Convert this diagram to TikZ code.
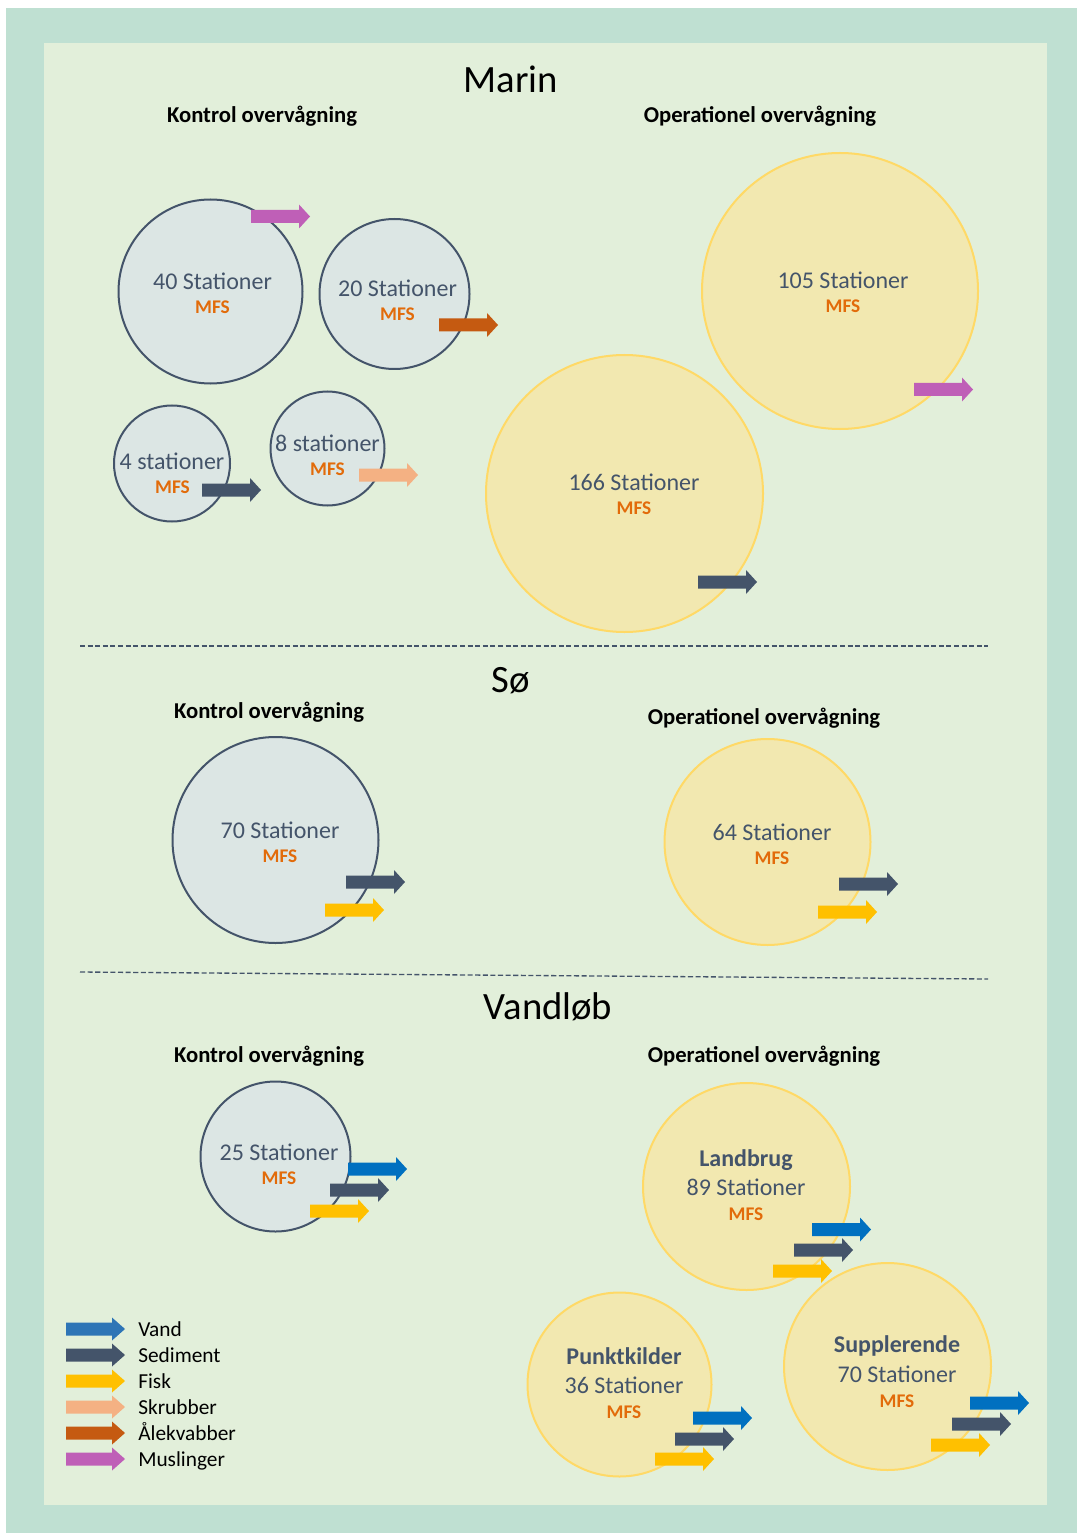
\documentclass[tikz,border=0pt]{standalone}
\usepackage{fontspec}
\setmainfont{Carlito}
\definecolor{outerbg}{HTML}{BFE0D2}
\definecolor{innerbg}{HTML}{E2EFDA}
\definecolor{greyfill}{HTML}{DCE6E4}
\definecolor{greyline}{HTML}{44546A}
\definecolor{yelfill}{HTML}{F2E8B0}
\definecolor{yelline}{HTML}{FFD966}
\definecolor{txtgrey}{HTML}{44546A}
\definecolor{mfsorange}{HTML}{E26B0A}
\definecolor{cvand}{HTML}{0070C0}
\definecolor{cvandleg}{HTML}{2E75B6}
\definecolor{csed}{HTML}{44546A}
\definecolor{cfisk}{HTML}{FFC000}
\definecolor{cskrub}{HTML}{F4B183}
\definecolor{calek}{HTML}{C55A11}
\definecolor{cmusl}{HTML}{BF5FB7}
\tikzset{
  kontrolc/.style={circle, draw=greyline, line width=1.5pt, fill=greyfill, inner sep=0pt},
  operc/.style={circle, draw=yelline, line width=1.5pt, fill=yelfill, inner sep=0pt},
  title/.style={anchor=base, font=\fontsize{29}{31}\selectfont, text=black},
  heading/.style={anchor=base, font=\bfseries\fontsize{17}{19}\selectfont, text=black},
  stat/.style={anchor=base, font=\fontsize{18}{20}\selectfont, text=txtgrey},
  bstat/.style={anchor=base, font=\bfseries\fontsize{18}{20}\selectfont, text=txtgrey},
  mfs/.style={anchor=base, font=\bfseries\fontsize{14.5}{16}\selectfont, text=mfsorange},
  legtext/.style={anchor=base west, font=\fontsize{16}{18}\selectfont, text=black, inner sep=0pt},
  sepline/.style={draw=greyline, line width=1pt, dash pattern=on 3.8pt off 1.9pt},
  flow/.pic={\fill (0,-6.5) -- (48,-6.5) -- (48,-12) -- (59,0) -- (48,12) -- (48,6.5) -- (0,6.5) -- cycle;},
  legflow/.pic={\fill (0,-6.5) -- (46,-6.5) -- (46,-11.5) -- (59,0) -- (46,11.5) -- (46,6.5) -- (0,6.5) -- cycle;}
}
\begin{document}
\begin{tikzpicture}[x=0.75pt, y=-0.75pt]
\useasboundingbox (0,0) rectangle (1077,1533);
\fill[white] (0,0) rectangle (1077,1533);
\fill[outerbg] (6,8) rectangle (1077,1533);
\fill[innerbg] (44,43) rectangle (1047,1505);

% ---------------- Marin ----------------
\node[title] (tmarin) at (511,93) {Marin};
\node[heading] (hmk) at (262,123) {Kontrol overvågning};
\node[heading] (hmo) at (760,123) {Operationel overvågning};

\node[kontrolc, minimum size=138pt] (c40) at (210.5,291.5) {};
\node[kontrolc, minimum size=112.5pt] (c20) at (394.5,294) {};
\node[kontrolc, minimum size=87pt] (c4) at (172,463.5) {};
\node[kontrolc, minimum size=85.5pt] (c8) at (327.5,448.5) {};
\node[operc, minimum size=207pt] (c105) at (840,291) {};
\node[operc, minimum size=207.75pt] (c166) at (624.5,493.5) {};

\node[stat] (t40) at (212.5,290) {40 Stationer};
\node[mfs] (m40) at (212.5,314) {MFS};
\node[stat] (t20) at (397.5,297) {20 Stationer};
\node[mfs] (m20) at (397.5,321) {MFS};
\node[stat] (t4) at (172,469) {4 stationer};
\node[mfs] (m4) at (172.5,493) {MFS};
\node[stat] (t8) at (327.5,451) {8 stationer};
\node[mfs] (m8) at (327.5,475) {MFS};
\node[stat] (t105) at (843,289) {105 Stationer};
\node[mfs] (m105) at (843,313) {MFS};
\node[stat] (t166) at (634,490) {166 Stationer};
\node[mfs] (m166) at (634,514) {MFS};

\pic[fill=cmusl] at (251,216.5) {flow};
\pic[fill=calek] at (439,325) {flow};
\pic[fill=csed] at (202,490) {flow};
\pic[fill=cskrub] at (359,475) {flow};
\pic[fill=cmusl] at (914,389.5) {flow};
\pic[fill=csed] at (698,582) {flow};

\coordinate (d1a) at (80,646);
\coordinate (d1b) at (988,646);
\draw[sepline] (d1a) -- (d1b);

% ---------------- Sø ----------------
\node[title] (tso) at (511,692) {Sø};
\node[heading] (hsk) at (269,718) {Kontrol overvågning};
\node[heading] (hso) at (764,724) {Operationel overvågning};

\node[kontrolc, minimum size=154.5pt] (c70) at (275.5,840) {};
\node[operc, minimum size=154.5pt] (c64) at (767.5,842) {};
\node[stat] (t70) at (280,838) {70 Stationer};
\node[mfs] (m70) at (280,862) {MFS};
\node[stat] (t64) at (772,840) {64 Stationer};
\node[mfs] (m64) at (772,864) {MFS};

\pic[fill=csed] at (346,882) {flow};
\pic[fill=cfisk] at (325,910) {flow};
\pic[fill=csed] at (839,884) {flow};
\pic[fill=cfisk] at (818,912) {flow};

\coordinate (d2a) at (80,972);
\coordinate (d2b) at (988,979);
\draw[sepline] (d2a) -- (d2b);

% ---------------- Vandløb ----------------
\node[title] (tvl) at (548,1019) {Vandløb};
\node[heading] (hvk) at (269,1062) {Kontrol overvågning};
\node[heading] (hvo) at (764,1062) {Operationel overvågning};

\node[kontrolc, minimum size=112.5pt] (c25) at (275.5,1156.5) {};
\node[operc, minimum size=155.25pt] (cland) at (746.5,1186.5) {};
\node[operc, minimum size=155.25pt] (csupp) at (887.5,1366.5) {};
\node[operc, minimum size=138pt] (cpunkt) at (619.5,1384.5) {};

\node[stat] (t25) at (279,1160) {25 Stationer};
\node[mfs] (m25) at (279,1184) {MFS};

\node[bstat] (tland) at (746,1166) {Landbrug};
\node[stat] (t89) at (746,1195) {89 Stationer};
\node[mfs] (m89) at (746,1220) {MFS};

\node[bstat] (tsupp) at (897,1352) {Supplerende};
\node[stat] (t70b) at (897,1382) {70 Stationer};
\node[mfs] (m70b) at (897,1407) {MFS};

\node[bstat] (tpunkt) at (624,1364) {Punktkilder};
\node[stat] (t36) at (624,1393) {36 Stationer};
\node[mfs] (m36) at (624,1418) {MFS};

\pic[fill=cvand] at (348,1169) {flow};
\pic[fill=csed] at (330,1190) {flow};
\pic[fill=cfisk] at (310,1211) {flow};

\pic[fill=cvand] at (812,1229.5) {flow};
\pic[fill=csed] at (794,1250) {flow};
\pic[fill=cfisk] at (773,1271) {flow};

\pic[fill=cvand] at (970,1403) {flow};
\pic[fill=csed] at (952,1424) {flow};
\pic[fill=cfisk] at (931,1445) {flow};

\pic[fill=cvand] at (693,1418) {flow};
\pic[fill=csed] at (675,1439) {flow};
\pic[fill=cfisk] at (655,1459) {flow};

% ---------------- Legend ----------------
\pic[fill=cvandleg] at (66,1329) {legflow};
\pic[fill=csed] at (66,1355) {legflow};
\pic[fill=cfisk] at (66,1381) {legflow};
\pic[fill=cskrub] at (66,1407) {legflow};
\pic[fill=calek] at (66,1433) {legflow};
\pic[fill=cmusl] at (66,1459) {legflow};
\node[legtext] (l1) at (138,1336) {Vand};
\node[legtext] (l2) at (138,1362) {Sediment};
\node[legtext] (l3) at (138,1388) {Fisk};
\node[legtext] (l4) at (138,1414) {Skrubber};
\node[legtext] (l5) at (138,1440) {Ålekvabber};
\node[legtext] (l6) at (138,1466) {Muslinger};
\end{tikzpicture}
\end{document}
